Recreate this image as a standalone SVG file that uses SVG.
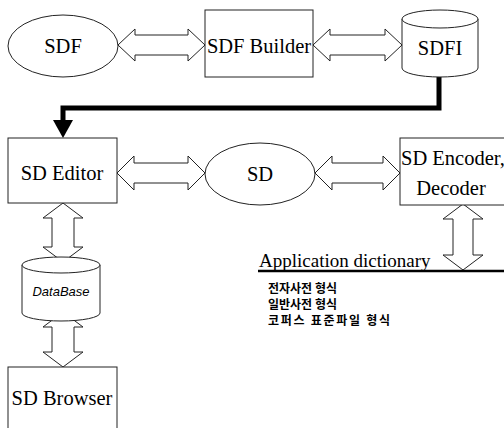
<svg xmlns="http://www.w3.org/2000/svg" width="504" height="428" viewBox="0 0 504 428">
<style>
.shape{fill:#fff;stroke:#222;stroke-width:1}
.arrow{fill:#fff;stroke:#222;stroke-width:1;stroke-linejoin:miter}
.lbl{font-family:"Liberation Serif","Times New Roman",serif;font-size:20.5px;fill:#000}
.db{font-family:"Liberation Sans",Arial,sans-serif;font-size:13px;font-style:italic;fill:#000}
.kr{font-family:"Noto Sans CJK KR","Noto Sans",sans-serif;font-size:12px;font-weight:bold;fill:#000}
</style>
<rect width="504" height="428" fill="#fff"/>
<g id="connectors">
<polygon class="arrow" points="118,45 135,29 135,35 188,35 188,29 205,45 188,61 188,55 135,55 135,61"/>
<polygon class="arrow" points="313,45 330,29 330,35 385,35 385,29 402,45 385,61 385,55 330,55 330,61"/>
<polygon class="arrow" points="117,173 134,156 134,163 188,163 188,156 205,173 188,190 188,183 134,183 134,190"/>
<polygon class="arrow" points="315,173 332,156 332,163 383,163 383,156 400,173 383,190 383,183 332,183 332,190"/>
<polygon class="arrow" points="63,203 83,218 74,218 74,247 83,247 63,262 43,247 52,247 52,218 43,218"/>
<polygon class="arrow" points="63,312 83,327 74,327 74,352 83,352 63,367 43,352 52,352 52,327 43,327"/>
<polygon class="arrow" points="463,204 483,219 473,219 473,255 483,255 463,270 443,255 453,255 453,219 443,219"/>
<polyline points="439,77 439,108 63,108 63,122" fill="none" stroke="#000" stroke-width="5"/>
<polygon points="53,120 73,120 63,138" fill="#000"/>
</g>
<g id="sdf">
<ellipse class="shape" cx="63" cy="46" rx="55" ry="31"/>
<text class="lbl" x="63" y="53" text-anchor="middle">SDF</text>
</g>
<g id="sdf-builder">
<rect class="shape" x="205" y="10" width="108" height="67"/>
<text class="lbl" x="259" y="53" text-anchor="middle">SDF Builder</text>
</g>
<g id="sdfi">
<path class="shape" d="M402,19 A38,9 0 0 1 478,19 L478,68 A38,9 0 0 1 402,68 Z"/>
<path class="shape" d="M402,19 A38,9 0 0 0 478,19" fill="none"/>
<text class="lbl" x="440" y="55" text-anchor="middle">SDFI</text>
</g>
<g id="sd-editor">
<rect class="shape" x="8" y="138" width="109" height="65"/>
<text class="lbl" x="62" y="180" text-anchor="middle">SD Editor</text>
</g>
<g id="sd">
<ellipse class="shape" cx="260" cy="174" rx="55" ry="31"/>
<text class="lbl" x="260" y="181" text-anchor="middle">SD</text>
</g>
<g id="sd-encoder">
<rect class="shape" x="400" y="138" width="110" height="67"/>
<text class="lbl" x="401" y="165">SD Encoder,</text>
<text class="lbl" x="451" y="195" text-anchor="middle">Decoder</text>
</g>
<g id="database">
<path class="shape" d="M22,265 A39,8 0 0 1 100,265 L100,313 A39,8 0 0 1 22,313 Z"/>
<path class="shape" d="M22,265 A39,8 0 0 0 100,265" fill="none"/>
<text class="db" x="61" y="296" text-anchor="middle">DataBase</text>
</g>
<g id="sd-browser">
<rect class="shape" x="8" y="367" width="109" height="70"/>
<text class="lbl" x="62" y="405" text-anchor="middle">SD Browser</text>
</g>
<g id="application-dictionary">
<text class="lbl" x="259" y="267" style="font-size:19px">Application dictionary</text>
<line x1="258" y1="271" x2="504" y2="271" stroke="#000" stroke-width="2.5"/>
<text class="kr" x="268" y="293">전자사전 형식</text>
<text class="kr" x="268" y="309">일반사전 형식</text>
<text class="kr" x="268" y="325" textLength="122" lengthAdjust="spacing">코퍼스 표준파일 형식</text>
</g>
</svg>
